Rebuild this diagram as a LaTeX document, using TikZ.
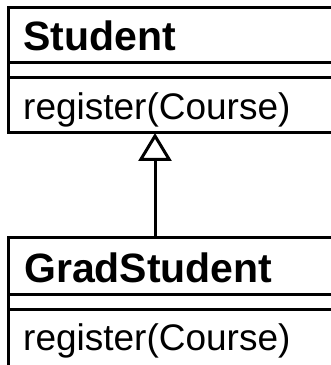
\documentclass[tikz,border=0pt]{standalone}
\usepackage{fontspec}
\setmainfont{Liberation Sans}
\usetikzlibrary{arrows.meta}
\begin{document}
\begin{tikzpicture}[x=1pt,y=1pt,
  classbox/.style={draw,line width=3pt,rectangle,inner sep=0pt,anchor=north west},
  sep/.style={line width=3pt},
  cname/.style={inner sep=0pt,anchor=base west,font=\fontsize{41}{44}\selectfont\bfseries},
  cop/.style={inner sep=0pt,anchor=base west,font=\fontsize{37}{40}\selectfont},
  gen/.style={line width=3pt,-{Triangle[open,length=28pt,width=33pt]}}]
\useasboundingbox (0,0) rectangle (331,365);
\clip (0,0) rectangle (331,365);
% Student class
\node[classbox,outer sep=0pt,minimum width=340pt,minimum height=125pt] (student) at (8,357) {};
\draw[sep] (8,302.5) -- (350,302.5);
\draw[sep] (8,287.5) -- (350,287.5);
\node[cname] (studentname) at (23,314) {Student};
\node[cop] (studentop) at (23,245) {register(Course)};
% GradStudent class
\node[classbox,outer sep=0pt,minimum width=340pt,minimum height=150pt] (grad) at (8,127) {};
\draw[sep] (8,70) -- (350,70);
\draw[sep] (8,55) -- (350,55);
\node[cname] (gradname) at (24,82) {GradStudent};
\node[cop] (gradop) at (23,15) {register(Course)};
% generalization
\draw[gen] (155,0 |- grad.north) -- (155,0 |- student.south);
\end{tikzpicture}
\end{document}
